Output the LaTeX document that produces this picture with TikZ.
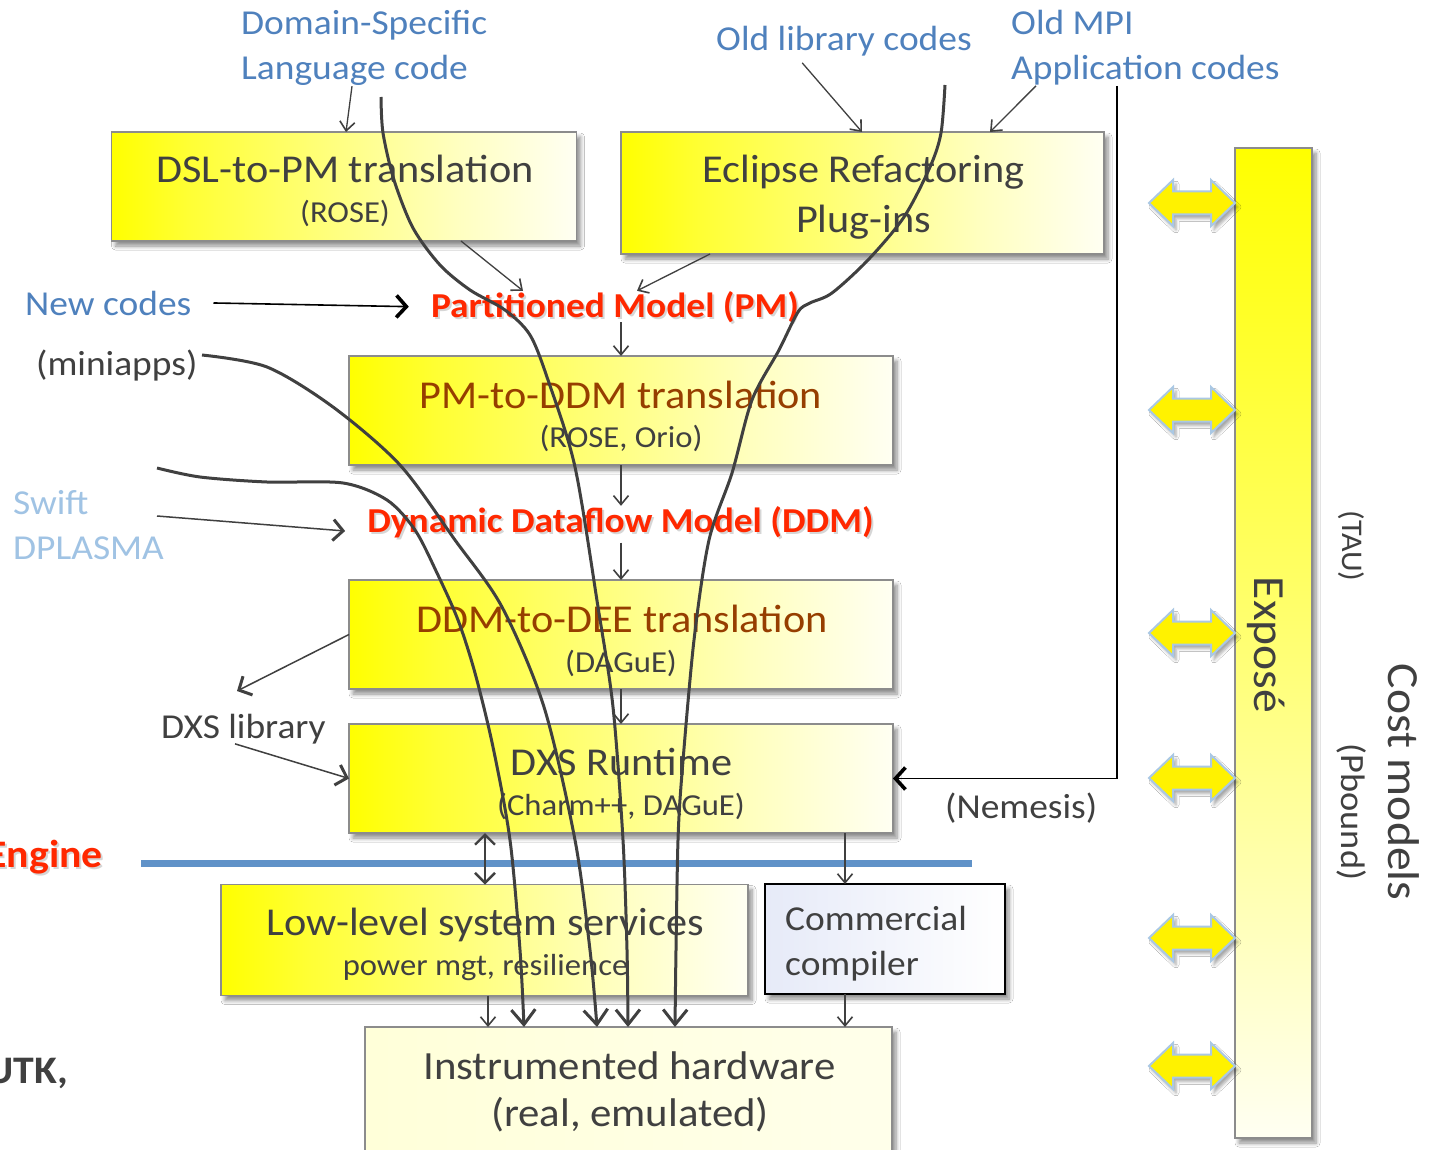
\documentclass[tikz,border=0pt]{standalone}
\usepackage{fontspec}
\setmainfont{Carlito}[FakeStretch=1.07]
\usetikzlibrary{arrows.meta,shadows.blur}

\definecolor{ink}{RGB}{64,64,64}
\definecolor{brn}{RGB}{150,62,0}
\definecolor{lblue}{RGB}{79,129,189}
\definecolor{pblue}{RGB}{160,195,228}
\definecolor{hot}{RGB}{255,40,0}
\definecolor{rulecol}{RGB}{96,146,200}
\definecolor{edgecol}{RGB}{140,140,140}
\definecolor{rimcol}{RGB}{170,200,228}
\definecolor{lav}{RGB}{230,234,248}

% yellow-to-white fill of the translation boxes (path maps to 25bp..75bp)
\pgfdeclarehorizontalshading{boxshade}{100bp}{color(0bp)=(yellow); color(25bp)=(yellow);
  color(33bp)=(yellow!80!white); color(50bp)=(yellow!48!white); color(62bp)=(yellow!25!white);
  color(75bp)=(yellow!5!white); color(100bp)=(yellow!5!white)}

\newcommand\fsz[1]{\fontsize{#1}{#1}\selectfont}

\begin{document}
\begin{tikzpicture}[x=1pt,y=-1pt,
  softshadow/.style={blur shadow={shadow xshift=4pt, shadow yshift=-5pt,
      shadow blur radius=4pt, shadow blur steps=6, shadow opacity=45}},
  box/.style={draw=edgecol, line width=1.5pt, inner sep=0pt, outer sep=0pt,
      shade, shading=boxshade, softshadow},
  ttl/.style={anchor=base, inner sep=0pt, text=ink, font=\fsz{39.5}},
  bttl/.style={ttl, text=brn},
  sub/.style={anchor=base, inner sep=0pt, text=ink, font=\fsz{30.5}},
  lbl/.style={anchor=base west, inner sep=0pt, text=ink, font=\fsz{35}},
  blbl/.style={lbl, text=lblue},
  plbl/.style={lbl, text=pblue},
  redl/.style={anchor=base, inner sep=0pt, text=hot, font=\bfseries\fsz{35}},
  redsh/.style={redl, text=black, opacity=0.16},
  rot/.style={rotate=-90, anchor=base, inner sep=0pt, text=ink},
  ta/.style={draw=ink, line width=1.3pt, -{Straight Barb[length=9pt,width=15pt,line width=1.6pt]}},
  tb/.style={draw=ink, line width=1.5pt, -{Straight Barb[length=10pt,width=21pt,line width=3pt]}},
  blk/.style={draw=black, line width=1.6pt, -{Straight Barb[length=10pt,width=22pt,line width=3.6pt]}},
  flow/.style={draw=ink, line width=3pt, -{Straight Barb[length=15pt,width=24pt]}},
  dbl/.pic={\path[fill=yellow, draw=rimcol, line width=2pt,
      blur shadow={shadow xshift=3pt, shadow yshift=-4pt, shadow blur radius=3pt, shadow opacity=35}]
      (-43,0) -- (-19,-23) -- (-19,-11.5) -- (19,-11.5) -- (19,-23) -- (43,0)
      -- (19,23) -- (19,11.5) -- (-19,11.5) -- (-19,23) -- cycle;}
]
\useasboundingbox (0,0) rectangle (1437,1150);
\clip (0,0) rectangle (1437,1150);
\fill[white] (0,0) rectangle (1437,1150);

% ---- boxes ----
\node[box, minimum width=465, minimum height=109] (dsl) at (344,186.5) {};
\node[box, minimum width=483, minimum height=122] (ecl) at (862.5,193) {};
\node[box, minimum width=544, minimum height=109] (pmddm) at (621,410.5) {};
\node[box, minimum width=544, minimum height=109] (ddmdee) at (621,634.5) {};
\node[box, minimum width=544, minimum height=109] (dxs) at (621,778.5) {};
\node[box, minimum width=527, minimum height=111] (llss) at (484.5,940) {};
\node[draw=black, line width=2pt, inner sep=0pt, outer sep=0pt, left color=lav, right color=white,
      softshadow, minimum width=240, minimum height=110] (comp) at (885,939) {};
\node[draw=edgecol, line width=1.5pt, inner sep=0pt, outer sep=0pt, left color=yellow!15!white,
      right color=yellow!8!white, softshadow, minimum width=527, minimum height=145] (hw) at (628.5,1099.5) {};
\node[draw=edgecol, line width=1.5pt, inner sep=0pt, outer sep=0pt, top color=yellow,
      bottom color=yellow!5!white, middle color=yellow!55!white, softshadow,
      minimum width=77, minimum height=990] (expo) at (1273.5,643) {};

% ---- box texts ----
\node[ttl] (dslT) at (345,183) {DSL-to-PM translation};
\node[sub] (dslS) at (345,223) {(ROSE)};
\node[ttl] (eclT) at (863.5,183) {Eclipse Refactoring};
\node[ttl] (eclS) at (863.5,233) {Plug-ins};
\node[bttl] (pmddmT) at (621,408) {PM-to-DDM translation};
\node[sub] (pmddmS) at (621,447) {(ROSE, Orio)};
\node[bttl] (ddmdeeT) at (622,632) {DDM-to-DEE translation};
\node[sub] (ddmdeeS) at (621,672) {(DAGuE)};
\node[ttl] (dxsT) at (621.5,775) {DXS Runtime};
\node[sub] (dxsS) at (621,815) {(Charm++, DAGuE)};
\node[ttl] (llssT) at (485.5,935) {Low-level system services};
\node[sub] (llssS) at (485.5,975) {power mgt, resilience};
\node[lbl] (compT) at (785,930) {Commercial};
\node[lbl] (compS) at (785,975) {compiler};
\node[ttl, font=\fsz{40}] (hwT) at (629.5,1079) {Instrumented hardware};
\node[ttl, font=\fsz{40}] (hwS) at (630,1126) {(real, emulated)};

% ---- side labels ----
\node[blbl, font=\fsz{35}] (dom) at (241,35) {Domain-Specific};
\node[blbl, font=\fsz{35}] (lang) at (241,80) {Language code};
\node[blbl] (oldlib) at (716,51) {Old library codes};
\node[blbl] (oldmpi) at (1011,35) {Old MPI};
\node[blbl] (app) at (1011,80) {Application codes};
\node[blbl] (newc) at (25,315) {New codes};
\node[lbl] (mini) at (36,375) {(miniapps)};
\node[plbl] (swift) at (13,514) {Swift};
\node[plbl] (dplasma) at (13,559) {DPLASMA};
\node[lbl] (dxslib) at (161,738) {DXS library};
\node[lbl] (nem) at (945,818) {(Nemesis)};

% ---- model labels ----
\node[redsh] (pmsh) at (617,319) {Partitioned Model (PM)};
\node[redl] (pm) at (615,317) {Partitioned Model (PM)};
\node[redsh] (ddmsh) at (622.5,534) {Dynamic Dataflow Model (DDM)};
\node[redl] (ddm) at (620.5,532) {Dynamic Dataflow Model (DDM)};
\node[redsh, anchor=base east, font=\bfseries\fsz{39}] (engsh) at (105,869) {Engine};
\node[redl, anchor=base east, font=\bfseries\fsz{39}] (eng) at (103,867) {Engine};
\node[anchor=base east, inner sep=0pt, text=ink, font=\bfseries\fsz{39}] (utk) at (68,1083) {UTK,};

% ---- rotated texts at the right ----
\node[rot, font=\fsz{44.5}] (expoT) at (1254,645) {Exposé};
\node[rot, font=\fsz{30}] (tau) at (1342,546) {(TAU)};
\node[rot, font=\fsz{34}] (pbound) at (1341,812) {(Pbound)};
\node[rot, font=\fsz{44.5}] (cost) at (1388,782) {Cost models};

% ---- engine divider ----
\draw[rulecol, line width=7pt] (141,863) -- (972,863);

% ---- yellow links to the Exposé bar ----
\foreach \yy in {203,410,633,778,938,1066}
  \pic at (1192,\yy) {dbl};

% ---- straight connectors ----
\draw[ta] (lang.south -| 352,0) -- (dsl.north -| 346,0);
\draw[ta] (dsl.south -| 461,0) -- (pm.north -| 523,0);
\draw[ta] (ecl.south -| 710,0) -- (pm.north -| 637,0);
\draw[ta, shorten <=8pt] (oldlib.south -| 797,0) -- (ecl.north -| 862,0);
\draw[ta] (app.south -| 1036,0) -- (ecl.north -| 990,0);
\draw[ta] (pm.south -| 621,0) -- (pmddm.north);
\draw[ta] (pmddm.south) -- (ddm.north -| 621,0);
\draw[ta, shorten <=5pt] (ddm.south -| 621,0) -- (ddmdee.north);
\draw[ta] (ddmdee.south) -- (dxs.north);
\coordinate (swiftsrc) at (157,516);
\draw[tb] (swiftsrc) -- ([xshift=-22pt,yshift=1pt]ddm.base west);
\coordinate (libin) at (237,691);
\draw[tb] (ddmdee.west) -- (libin);
\draw[tb] (dxslib.south -| 235,0) -- (dxs.west);
\draw[blk] (app.south -| 1117,0) |- (dxs.east);
\draw[blk] ([xshift=22pt]newc.east) -- ([xshift=-22pt]pm.west);
\draw[draw=ink, line width=2.4pt, {Straight Barb[length=10pt,width=20pt]}-{Straight Barb[length=10pt,width=20pt]}]
  (dxs.south -| 485,0) -- (llss.north -| 485,0);
\draw[ta] (dxs.south -| 845,0) -- (comp.north -| 845,0);
\draw[ta] (llss.south -| 488,0) -- (hw.north -| 488,0);
\draw[ta] (comp.south -| 845,0) -- (hw.north -| 845,0);

% ---- code flows down to the hardware ----
\coordinate (srcA) at (381,97);
\coordinate (srcB) at (945,85);
\coordinate (srcC) at (202,355);
\coordinate (srcD) at (157,468);
\coordinate (hwA) at (hw.north -| 628,0);
\coordinate (hwB) at (hw.north -| 675,0);
\coordinate (hwC) at (hw.north -| 597,0);
\coordinate (hwD) at (hw.north -| 524,0);
\draw[flow] plot[smooth, tension=0.5] coordinates {(srcA) (383,133) (394,180) (413,228) (440,265)
  (470,290) (505,310) (530,335) (548,380) (575,467) (598,607) (613,707) (623,840) (627,950) (hwA)};
\draw[flow] plot[smooth, tension=0.5] coordinates {(srcB) (941,133) (930,167) (904,217) (868,260)
  (832,293) (810,303) (798,312) (779,350) (752,400) (732,473) (709,540) (694,640) (682,773)
  (678,840) (676,950) (hwB)};
\draw[flow] plot[smooth, tension=0.5] coordinates {(srcC) (267,367) (333,407) (400,465) (455,540)
  (502,607) (544,707) (575,840) (590,950) (hwC)};
\draw[flow] plot[smooth, tension=0.5] coordinates {(srcD) (200,477) (267,482) (343,483) (387,500)
  (415,530) (437,573) (458,620) (475,673) (493,747) (510,840) (520,950) (hwD)};
\end{tikzpicture}
\end{document}
